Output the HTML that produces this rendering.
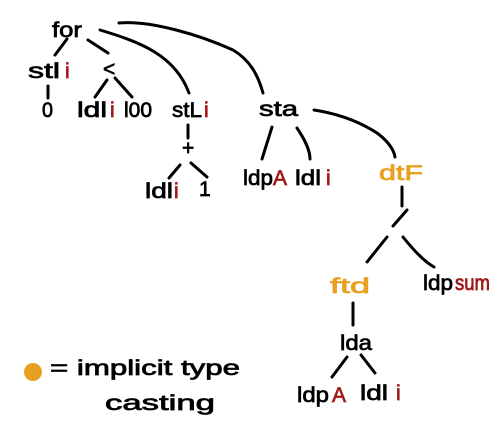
<!DOCTYPE html>
<html><head><meta charset="utf-8"><style>
html,body{margin:0;padding:0;background:#fff;}
svg{display:block}
text{font-family:"Liberation Sans",sans-serif;font-size:21px;fill:#000;stroke:#000;stroke-width:0.7}
.r{fill:#a01818;stroke:#a01818}.o{fill:#e8a020;stroke:#e8a020}
</style></head><body>
<svg width="500" height="436" viewBox="0 0 500 436" xmlns="http://www.w3.org/2000/svg">
<g fill="none" stroke="#000" stroke-width="3" stroke-linecap="round">
<path d="M67 39 L55 55"/>
<path d="M88 40 L108 53"/>
<path d="M107 80 L95 97"/>
<path d="M115 78 L132 97"/>
<path d="M48 86 L48 98"/>
<path d="M100 30 C140 42 175 55 189 93"/>
<path d="M119 23 C150 20 200 35 233 50 C250 60 258 75 263 93"/>
<path d="M188 125 L188 138"/>
<path d="M180 165 L169 178"/>
<path d="M191 163 L207 177"/>
<path d="M272 127 L262 159"/>
<path d="M297 128 C305 140 310 150 310 159"/>
<path d="M314 110 C340 114 360 122 377 133 C388 141 394 150 395 157"/>
<path d="M402 187 L402 206"/>
<path d="M407 210 L393 226"/>
<path d="M387 237 L367 262"/>
<path d="M403 237 C415 252 425 262 434 267"/>
<path d="M353 303 L353 325"/>
<path d="M347 357 L332 377"/>
<path d="M361 355 L375 373"/>
</g>
<text x="52" y="37" textLength="30" lengthAdjust="spacingAndGlyphs">for</text>
<text x="28" y="78" textLength="32" lengthAdjust="spacingAndGlyphs">stl</text><text x="65" y="78" class="r">i</text>
<text x="103" y="76">&lt;</text>
<text x="42" y="117" textLength="11" lengthAdjust="spacingAndGlyphs">0</text>
<text x="77" y="117" textLength="30" lengthAdjust="spacingAndGlyphs">ldl</text><text x="110" y="117" class="r">i</text><text x="124" y="117" textLength="28" lengthAdjust="spacingAndGlyphs">l00</text>
<text x="172" y="117" textLength="30" lengthAdjust="spacingAndGlyphs">stL</text><text x="204" y="117" class="r">i</text>
<text x="182" y="155">+</text>
<text x="145" y="198" textLength="28" lengthAdjust="spacingAndGlyphs">ldl</text><text x="174" y="198" class="r">i</text><text x="199" y="196">1</text>
<text x="259" y="116" textLength="39" lengthAdjust="spacingAndGlyphs">sta</text>
<text x="243" y="185" textLength="30" lengthAdjust="spacingAndGlyphs">ldp</text><text x="273" y="185" class="r">A</text><text x="295" y="185" textLength="26" lengthAdjust="spacingAndGlyphs">ldl</text><text x="326" y="185" class="r">i</text>
<text x="379" y="180" class="o" textLength="44" lengthAdjust="spacingAndGlyphs">dtF</text>
<text x="330" y="293" class="o" textLength="40" lengthAdjust="spacingAndGlyphs">ftd</text>
<text x="423" y="290" textLength="30" lengthAdjust="spacingAndGlyphs">ldp</text><text x="455" y="290" class="r" textLength="35" lengthAdjust="spacingAndGlyphs">sum</text>
<text x="340" y="350" textLength="32" lengthAdjust="spacingAndGlyphs">lda</text>
<text x="297" y="402" textLength="32" lengthAdjust="spacingAndGlyphs">ldp</text><text x="332" y="402" class="r">A</text><text x="360" y="400" textLength="28" lengthAdjust="spacingAndGlyphs">ldl</text><text x="396" y="400" class="r">i</text>
<circle cx="33" cy="372" r="9" fill="#e8a020"/>
<text x="50" y="375" textLength="190" lengthAdjust="spacingAndGlyphs">= implicit type</text>
<text x="105" y="410" textLength="110" lengthAdjust="spacingAndGlyphs">casting</text>
</svg>
</body></html>
